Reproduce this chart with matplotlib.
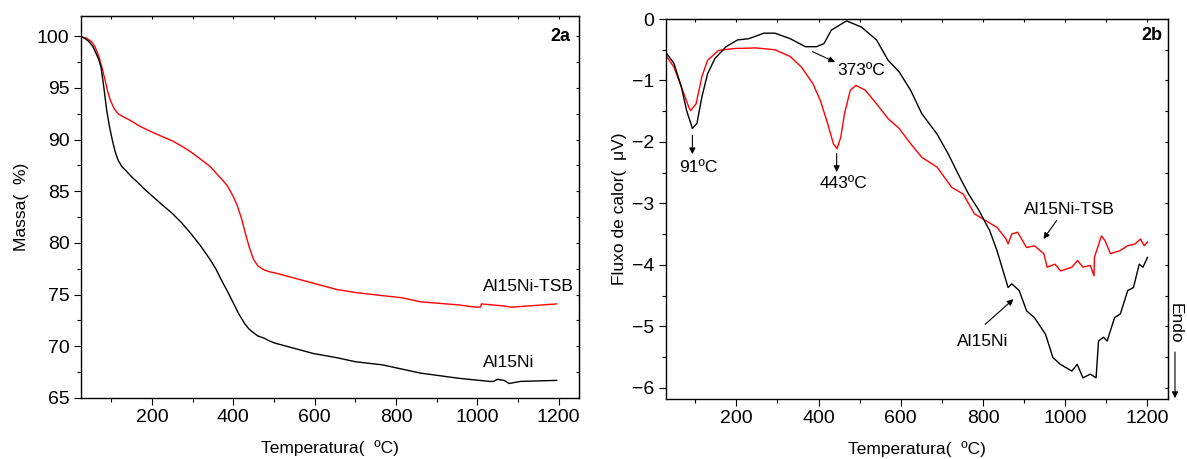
"""
TGA (2a) and DTA (2b) curves for Al15Ni and Al15Ni-TSB.
Values read off the published figure.
"""

import matplotlib

matplotlib.use("Agg")
import matplotlib.pyplot as plt
import numpy as np

plt.rcParams["font.family"] = ["Liberation Sans", "DejaVu Sans"]

# --- 2a: mass loss (%) ---
tga_t_ni = [23, 35, 45, 55, 62, 69, 75, 82, 89, 96, 103, 110, 117, 126, 136, 150,
            164, 182, 202, 225, 249, 272, 296, 320, 343, 357, 371, 386, 400, 414,
            428, 438, 447, 460, 475, 490, 503, 550, 597, 654, 701, 767, 814, 861,
            955, 1030, 1040, 1049, 1066, 1078, 1106, 1195]
tga_m_ni = [100, 99.8, 99.5, 99.0, 98.4, 97.8, 97.0, 95.0, 92.8, 91.2, 89.9, 88.8,
            88.0, 87.4, 87.0, 86.4, 85.9, 85.2, 84.5, 83.7, 82.9, 82.0, 80.9, 79.7,
            78.4, 77.5, 76.4, 75.3, 74.2, 73.1, 72.2, 71.7, 71.4, 71.0, 70.8, 70.5,
            70.3, 69.8, 69.3, 68.9, 68.5, 68.2, 67.8, 67.4, 66.9, 66.6, 66.6, 66.8,
            66.7, 66.4, 66.6, 66.7]

tga_t_tsb = [23, 40, 51, 60, 70, 77, 84, 91, 98, 107, 117, 130, 145, 170, 202, 225,
             249, 272, 296, 320, 343, 357, 371, 386, 400, 410, 420, 430, 440, 450,
             460, 475, 490, 503, 550, 597, 654, 701, 767, 814, 861, 955, 993, 1008,
             1010, 1066, 1080, 1090, 1195]
tga_m_tsb = [100, 99.8, 99.5, 99.0, 98.0, 97.0, 95.9, 94.7, 93.8, 93.0, 92.5, 92.2,
             91.9, 91.3, 90.7, 90.3, 89.9, 89.4, 88.8, 88.1, 87.4, 86.8, 86.2, 85.5,
             84.5, 83.6, 82.4, 80.9, 79.5, 78.4, 77.8, 77.4, 77.2, 77.1, 76.6, 76.1,
             75.5, 75.2, 74.9, 74.7, 74.3, 74.0, 73.8, 73.8, 74.1, 73.9, 73.8, 73.8,
             74.1]

# --- 2b: heat flow (uV) ---
dta_t_ni = [25, 48, 66, 79, 93, 104, 116, 130, 148, 175, 203, 230, 267, 294, 331,
            368, 395, 413, 431, 468, 504, 541, 569, 596, 624, 651, 688, 715, 743,
            765, 788, 816, 834, 861, 870, 888, 906, 925, 952, 970, 988, 1016, 1029,
            1043, 1061, 1075, 1081, 1093, 1102, 1120, 1134, 1152, 1166, 1180, 1189,
            1200]
dta_q_ni = [-0.51, -0.72, -1.10, -1.49, -1.78, -1.70, -1.27, -0.89, -0.64, -0.45,
            -0.34, -0.32, -0.23, -0.23, -0.32, -0.45, -0.45, -0.40, -0.18, -0.03,
            -0.13, -0.34, -0.67, -0.86, -1.16, -1.54, -1.87, -2.19, -2.57, -2.85,
            -3.09, -3.44, -3.77, -4.37, -4.31, -4.42, -4.75, -4.86, -5.13, -5.51,
            -5.62, -5.73, -5.62, -5.84, -5.78, -5.84, -5.24, -5.18, -5.24, -4.86,
            -4.80, -4.42, -4.37, -3.99, -4.04, -3.88]

dta_t_tsb = [25, 48, 66, 84, 89, 102, 116, 130, 157, 194, 248, 294, 331, 358, 386,
             404, 422, 436, 445, 454, 463, 477, 491, 514, 541, 569, 596, 624, 651,
             688, 724, 752, 779, 806, 834, 856, 861, 870, 884, 906, 925, 948, 956,
             975, 989, 1016, 1030, 1043, 1061, 1070, 1071, 1088, 1097, 1110, 1133,
             1152, 1170, 1183, 1192, 1200]
dta_q_tsb = [-0.56, -0.78, -1.10, -1.43, -1.49, -1.38, -0.94, -0.67, -0.51, -0.48,
             -0.47, -0.50, -0.61, -0.78, -1.05, -1.32, -1.70, -2.03, -2.11, -1.92,
             -1.54, -1.16, -1.08, -1.16, -1.38, -1.62, -1.78, -2.03, -2.25, -2.41,
             -2.74, -2.85, -3.17, -3.28, -3.39, -3.58, -3.66, -3.50, -3.47, -3.72,
             -3.69, -3.82, -4.04, -3.99, -4.10, -4.04, -3.93, -4.04, -4.01, -4.18,
             -3.88, -3.53, -3.61, -3.82, -3.77, -3.69, -3.66, -3.58, -3.69, -3.63]

RED = "#ff0000"
ARROW = dict(arrowstyle="-|>", color="black", lw=0.8, mutation_scale=9, shrinkA=0, shrinkB=0)
FS_TICK = 14
FS_LABEL = 12.5
FS_NOTE = 12.5


def style_axes(ax, xmaj, xmin, ymaj, ymin):
    ax.set_xticks(xmaj)
    ax.set_xticks(xmin, minor=True)
    ax.set_yticks(ymaj)
    ax.set_yticks(ymin, minor=True)
    ax.tick_params(which="both", direction="out", labelsize=FS_TICK, width=0.8, pad=3)
    ax.tick_params(which="major", length=5)
    ax.tick_params(which="minor", length=3)
    for s in ax.spines.values():
        s.set_linewidth(1.0)
    # inward ticks on top and right, Origin-style
    top = ax.secondary_xaxis("top")
    top.set_xticks(xmaj)
    top.set_xticks(xmin, minor=True)
    top.tick_params(which="both", direction="in", length=2.5, width=0.8, labeltop=False)
    right = ax.secondary_yaxis("right")
    right.set_yticks(ymaj)
    right.set_yticks(ymin, minor=True)
    right.tick_params(which="both", direction="in", length=2.5, width=0.8, labelright=False)


fig = plt.figure(figsize=(11.87, 4.59), dpi=100)

# ---- 2a ----
ax1 = fig.add_axes([0.068, 0.133, 0.4198, 0.833])
ax1.plot(tga_t_tsb, tga_m_tsb, color=RED, lw=1.0)
ax1.plot(tga_t_ni, tga_m_ni, color="black", lw=1.0)
ax1.set_xlim(25, 1250)
ax1.set_ylim(65, 102)
style_axes(ax1, np.arange(200, 1201, 200), np.arange(100, 1201, 100),
           np.arange(65, 101, 5), np.arange(65, 101, 2.5))
ax1.set_xlabel("Temperatura(  ºC)", fontsize=FS_LABEL, labelpad=10)
ax1.set_ylabel("Massa(  %)", fontsize=FS_LABEL, labelpad=6)
ax1.text(1205, 100, "2a", fontsize=13, fontweight="bold", ha="center", va="center")
ax1.text(1013, 75.8, "Al15Ni-TSB", fontsize=FS_NOTE, ha="left", va="center")
ax1.text(1013, 68.4, "Al15Ni", fontsize=FS_NOTE, ha="left", va="center")

# ---- 2b ----
ax2 = fig.add_axes([0.5608, 0.130, 0.4232, 0.8285])
ax2.plot(dta_t_tsb, dta_q_tsb, color=RED, lw=1.0)
ax2.plot(dta_t_ni, dta_q_ni, color="black", lw=1.0)
ax2.set_xlim(28, 1250)
ax2.set_ylim(-6.19, 0)
style_axes(ax2, np.arange(200, 1201, 200), np.arange(100, 1201, 100),
           np.arange(-6, 0.1, 1), np.arange(-6, 0.1, 0.5))
ax2.set_xlabel("Temperatura(  ºC)", fontsize=FS_LABEL, labelpad=10)
ax2.set_ylabel("Fluxo de calor(  μV)", fontsize=FS_LABEL, labelpad=4)
ax2.text(1210, -0.26, "2b", fontsize=13, fontweight="bold", ha="center", va="center")

ax2.annotate("", xy=(440, -0.70), xytext=(385, -0.53), arrowprops=ARROW)
ax2.text(504, -0.84, "373ºC", fontsize=FS_NOTE, ha="center", va="center")
ax2.annotate("", xy=(93, -2.20), xytext=(93, -1.89), arrowprops=ARROW)
ax2.text(107, -2.41, "91ºC", fontsize=FS_NOTE, ha="center", va="center")
ax2.annotate("", xy=(444, -2.49), xytext=(444, -2.19), arrowprops=ARROW)
ax2.text(460, -2.68, "443ºC", fontsize=FS_NOTE, ha="center", va="center")
ax2.annotate("", xy=(947, -3.58), xytext=(979, -3.28), arrowprops=ARROW)
ax2.text(1010, -3.10, "Al15Ni-TSB", fontsize=FS_NOTE, ha="center", va="center")
ax2.annotate("", xy=(874, -4.56), xytext=(805, -4.97), arrowprops=ARROW)
ax2.text(798, -5.25, "Al15Ni", fontsize=FS_NOTE, ha="center", va="center")

# "Endo" marker outside the right spine
ax2.text(1267, -4.95, "Endo", fontsize=FS_NOTE, rotation=-90, ha="center", va="center",
         clip_on=False)
ax2.annotate("", xy=(1267, -6.17), xytext=(1267, -5.42), arrowprops=ARROW,
             annotation_clip=False)

fig.savefig("out.png", dpi=100)
